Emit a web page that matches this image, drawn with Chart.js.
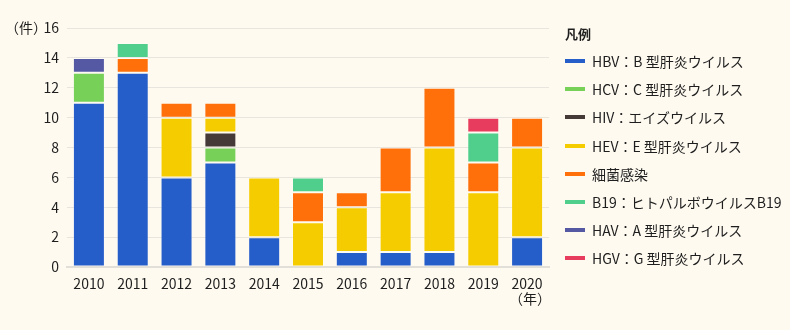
<!DOCTYPE html>
<html lang="ja">
<head>
<meta charset="utf-8">
<script src="https://cdn.jsdelivr.net/npm/chart.js@4/dist/chart.umd.min.js"></script>
<style>
  html, body { margin: 0; padding: 0; background: #fefaf0; }
  #wrap { width: 790px; height: 330px; position: relative; font-family: 'Noto Sans CJK JP', 'Noto Sans', sans-serif; color: #1e1e1e; }
  #legend { position: absolute; left: 565px; top: 23px; }
  #legend .title { font-size: 13px; font-weight: bold; height: 22px; line-height: 22px; margin-bottom: 2px; }
  #legend .item { height: 28.2px; display: flex; align-items: center; font-size: 14px; white-space: nowrap; }
  #legend .box { width: 20px; height: 4px; margin-right: 7px; }
</style>
</head>
<body>
<div id="wrap"><canvas id="chart"></canvas><div id="legend"></div></div>
<script>
// data
var years = ["2010", "2011", "2012", "2013", "2014", "2015", "2016", "2017", "2018", "2019", "2020"];
var hbv = [11, 13, 6, 7, 2, 0, 1, 1, 1, 0, 2];
var hcv = [2, 0, 0, 1, 0, 0, 0, 0, 0, 0, 0];
var hiv = [0, 0, 0, 1, 0, 0, 0, 0, 0, 0, 0];
var hev = [0, 0, 4, 1, 4, 3, 3, 4, 7, 5, 6];
var bacteria = [0, 1, 1, 1, 0, 2, 1, 3, 4, 2, 2];
var b19 = [0, 1, 0, 0, 0, 1, 0, 0, 0, 2, 0];
var hav = [1, 0, 0, 0, 0, 0, 0, 0, 0, 0, 0];
var hgv = [0, 0, 0, 0, 0, 0, 0, 0, 0, 1, 0];

var FONT = "'Noto Sans CJK JP', 'Noto Sans', sans-serif";

function ds(label, data, color) {
	return {
		label: label,
		data: data,
		backgroundColor: color,
		borderColor: "rgba(255,255,255,0.2)",
		borderWidth: 1,
		borderSkipped: false,
		barPercentage: 0.73,
		categoryPercentage: 1.0,
	};
}

// （件） and （年） labels
var unitLabels = {
	id: "unitLabels",
	afterDraw: function (chart) {
		var c = chart.ctx;
		var y = chart.scales.y;
		var x = chart.scales.x;
		c.save();
		c.font = "14px " + FONT;
		c.fillStyle = "#1e1e1e";
		c.textBaseline = "middle";
		c.textAlign = "left";
		c.fillText("（件）", 5, y.getPixelForValue(16));
		c.textAlign = "center";
		c.fillText("（年）", x.getPixelForValue(10) + 3, y.bottom + 32);
		c.restore();
	},
};

var ctx = document.getElementById("chart").getContext("2d");
var myChart = new Chart(ctx, {
	type: "bar",
	data: {
		labels: years,
		datasets: [
			ds("HBV：B 型肝炎ウイルス", hbv, "#255ec9"),
			ds("HCV：C 型肝炎ウイルス", hcv, "#77d058"),
			ds("HIV：エイズウイルス", hiv, "#463a39"),
			ds("HEV：E 型肝炎ウイルス", hev, "#f5cc00"),
			ds("細菌感染", bacteria, "#ff700a"),
			ds("B19：ヒトパルボウイルスB19", b19, "#50cf8c"),
			ds("HAV：A 型肝炎ウイルス", hav, "#5558a3"),
			ds("HGV：G 型肝炎ウイルス", hgv, "#e83c5e"),
		],
	},
	options: {
		responsive: true,
		maintainAspectRatio: false,
		animation: false,
		layout: { padding: { left: 42, top: 28, bottom: 24, right: 241 } },
		scales: {
			x: {
				stacked: true,
				grid: { display: false },
				border: { color: "#e2dfd8", width: 2 },
				ticks: { color: "#1e1e1e", font: { family: FONT, size: 14 }, padding: 0 },
				afterFit: function (s) { s.height = 39; },
			},
			y: {
				stacked: true,
				min: 0,
				max: 16,
				ticks: { stepSize: 2, color: "#1e1e1e", font: { family: FONT, size: 14 }, padding: 8 },
				grid: { color: "#e8e5de", drawTicks: false },
				border: { display: false },
				afterFit: function (s) { s.width = 25; },
			},
		},
		plugins: {
			tooltip: { enabled: false },
			legend: { display: false },
		},
	},
	plugins: [unitLabels],
});

// legend
var legendEl = document.getElementById("legend");
var html = '<div class="title">凡例</div>';
myChart.data.datasets.forEach(function (d) {
	html += '<div class="item"><span class="box" style="background:' + d.backgroundColor + '"></span>' + d.label + "</div>";
});
legendEl.innerHTML = html;
</script>
</body>
</html>
